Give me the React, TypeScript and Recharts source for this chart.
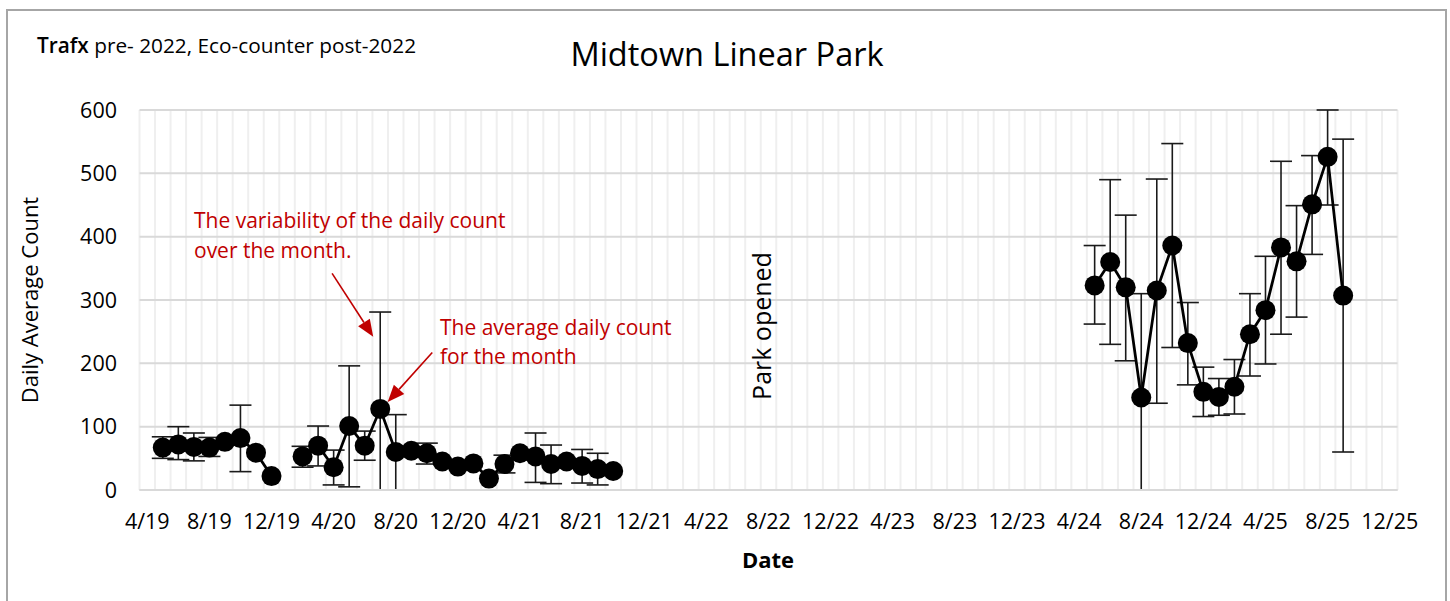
import React from 'react';
import { LineChart, Line, XAxis, YAxis, CartesianGrid, ErrorBar, ReferenceLine } from 'recharts';

// monthly averages, Trafx up to 2021, Eco-counter from 2024 (null = no data / break in line)
const months = [
  '2019-05', '2019-06', '2019-07', '2019-08', '2019-09', '2019-10', '2019-11', '2019-12',
  '2020-01',
  '2020-02', '2020-03', '2020-04', '2020-05', '2020-06', '2020-07', '2020-08', '2020-09', '2020-10', '2020-11', '2020-12',
  '2021-01', '2021-02', '2021-03', '2021-04', '2021-05', '2021-06', '2021-07', '2021-08', '2021-09', '2021-10',
  '2021-11',
  '2024-05', '2024-06', '2024-07', '2024-08', '2024-09', '2024-10', '2024-11', '2024-12',
  '2025-01', '2025-02', '2025-03', '2025-04', '2025-05', '2025-06', '2025-07', '2025-08', '2025-09',
];

const avgCount = [
  67, 72, 68, 67, 76, 82, 59, 22,
  null,
  53, 70, 36, 101, 70, 128, 60, 62, 58, 45, 37,
  42, 18, 41, 58, 53, 41, 45, 38, 33, 30,
  null,
  323, 360, 320, 146, 315, 386, 232, 155,
  147, 163, 246, 284, 383, 361, 451, 526, 307,
];

const lowCount = [
  50, 48, 46, 53, null, 29, null, null,
  null,
  36, 38, 8, 5, 47, 0, 0, null, 41, null, null,
  null, null, 27, null, 12, 10, null, 11, 8, null,
  null,
  262, 230, 204, 0, 137, 225, 166, 116,
  118, 120, 180, 199, 246, 273, 372, 450, 60,
];

const highCount = [
  84, 100, 90, 83, null, 134, null, null,
  null,
  69, 101, 63, 196, 93, 281, 119, null, 74, null, null,
  null, null, 55, null, 90, 71, null, 64, 58, null,
  null,
  386, 490, 434, 310, 491, 547, 296, 194,
  176, 206, 310, 369, 519, 449, 528, 600, 554,
];

const xTickLabels = [
  '4/19', '8/19', '12/19', '4/20', '8/20', '12/20', '4/21', '8/21', '12/21', '4/22', '8/22',
  '12/22', '4/23', '8/23', '12/23', '4/24', '8/24', '12/24', '4/25', '8/25', '12/25',
];
const yTicks = [0, 100, 200, 300, 400, 500, 600];

// annotation arrows in (month index, count) units
const arrowVariability = [{ x: 11.9, y: 342 }, { x: 14.55, y: 242 }];
const arrowAverage = [{ x: 18.35, y: 217 }, { x: 15.48, y: 139 }];

const FONT = '"Open Sans", sans-serif';
const RED = '#c00000';

const monthIndex = (s: string) => {
  const [y, mo] = s.split('-').map(Number);
  return (y - 2019) * 12 + (mo - 4);
};

const data = months.map((mo, i) => {
  const a = avgCount[i];
  const lo = lowCount[i];
  const hi = highCount[i];
  return {
    m: monthIndex(mo),
    avg: a,
    err: a != null && lo != null && hi != null ? [a - lo, hi - a] : null,
  };
});

const xTicks = xTickLabels.map((_, i) => i * 4);
const lastMonth = (xTickLabels.length - 1) * 4;

const XTick = ({ x, y, payload }: any) => (
  <text x={x} y={y + 39} textAnchor="middle" fontSize={21.5} fill="#000" fontFamily={FONT}>
    {xTickLabels[payload.value / 4]}
  </text>
);

const YTick = ({ x, y, payload }: any) => (
  <text x={x - 22.5} y={y + 7.7} textAnchor="end" fontSize={21.5} fill="#000" fontFamily={FONT}>
    {payload.value}
  </text>
);

const Arrow = (props: any) => {
  const { x1, y1, x2, y2 } = props;
  const dx = x2 - x1;
  const dy = y2 - y1;
  const len = Math.hypot(dx, dy) || 1;
  const ux = dx / len;
  const uy = dy / len;
  const head = 17;
  const half = 7;
  const bx = x2 - ux * head;
  const by = y2 - uy * head;
  return (
    <g>
      <line x1={x1} y1={y1} x2={bx} y2={by} stroke={RED} strokeWidth={1.6} />
      <polygon
        points={`${x2},${y2} ${bx - uy * half},${by + ux * half} ${bx + uy * half},${by - ux * half}`}
        fill={RED}
      />
    </g>
  );
};

const monthGrid = ({ xAxis, offset }: any) => {
  const pts: number[] = [];
  for (let k = 0; k <= lastMonth + 1; k++) {
    if (xAxis && typeof xAxis.scale === 'function') pts.push(xAxis.scale(k - 0.5));
    else pts.push(offset.left + (offset.width * k) / (lastMonth + 1));
  }
  return pts;
};

export default function App() {
  return (
    <div style={{ position: 'absolute', left: 0, top: 0, width: 1450, height: 601, overflow: 'hidden', background: '#fff' }}>
      <div
        style={{
          position: 'absolute', left: 6, top: 9, width: 1441, height: 640,
          border: '2px solid #a6a6a6', boxSizing: 'border-box',
        }}
      />
      <div style={{ position: 'absolute', left: 0, top: 0 }}>
        <LineChart
          width={1450}
          height={601}
          data={data}
          margin={{ top: 110, right: 52.5, bottom: 71, left: 59.5 }}
        >
          <CartesianGrid horizontal={false} stroke="#efefef" strokeWidth={2} verticalCoordinatesGenerator={monthGrid} />
          <CartesianGrid vertical={false} stroke="#d9d9d9" strokeWidth={2} />
          <XAxis
            dataKey="m"
            type="number"
            domain={[-0.5, lastMonth + 0.5]}
            allowDataOverflow
            ticks={xTicks}
            interval={0}
            tick={<XTick />}
            tickLine={false}
            tickSize={0}
            tickMargin={0}
            height={40}
            axisLine={{ stroke: '#d9d9d9', strokeWidth: 2 }}
          />
          <YAxis
            type="number"
            domain={[0, 600]}
            allowDataOverflow
            ticks={yTicks}
            interval={0}
            tick={<YTick />}
            tickLine={false}
            tickSize={0}
            tickMargin={0}
            axisLine={false}
            width={80}
          />
          <Line
            dataKey="avg"
            stroke="#000"
            strokeWidth={2.75}
            dot={{ r: 10, fill: '#000', stroke: '#000', strokeWidth: 0 }}
            activeDot={false}
            connectNulls={false}
            isAnimationActive={false}
          >
            <ErrorBar dataKey="err" direction="y" width={11} stroke="#1a1a1a" strokeWidth={1.6} />
          </Line>
          <ReferenceLine segment={arrowVariability} shape={Arrow} ifOverflow="visible" />
          <ReferenceLine segment={arrowAverage} shape={Arrow} ifOverflow="visible" />
        </LineChart>
      </div>
      <svg width={1450} height={601} style={{ position: 'absolute', left: 0, top: 0, pointerEvents: 'none' }} fontFamily={FONT}>
        <text x={37} y={53} fontSize={20.8} fill="#000">
          <tspan fontWeight={600}>Trafx</tspan> pre- 2022, Eco-counter post-2022
        </text>
        <text x={727} y={66} fontSize={32.5} textAnchor="middle" fill="#000">Midtown Linear Park</text>
        <text transform="translate(38, 300) rotate(-90)" textAnchor="middle" fontSize={22} fill="#000">Daily Average Count</text>
        <text x={768} y={567.5} textAnchor="middle" fontSize={22} fontWeight="bold" fill="#000">Date</text>
        <text transform="translate(771, 326) rotate(-90)" textAnchor="middle" fontSize={25} fill="#000">Park opened</text>
        <text x={194} y={228} fontSize={21} fill={RED}>
          <tspan x={194}>The variability of the daily count</tspan>
          <tspan x={194} dy={30}>over the month.</tspan>
        </text>
        <text x={440} y={335} fontSize={21} fill={RED}>
          <tspan x={440}>The average daily count</tspan>
          <tspan x={440} dy={28.5}>for the month</tspan>
        </text>
      </svg>
    </div>
  );
}
